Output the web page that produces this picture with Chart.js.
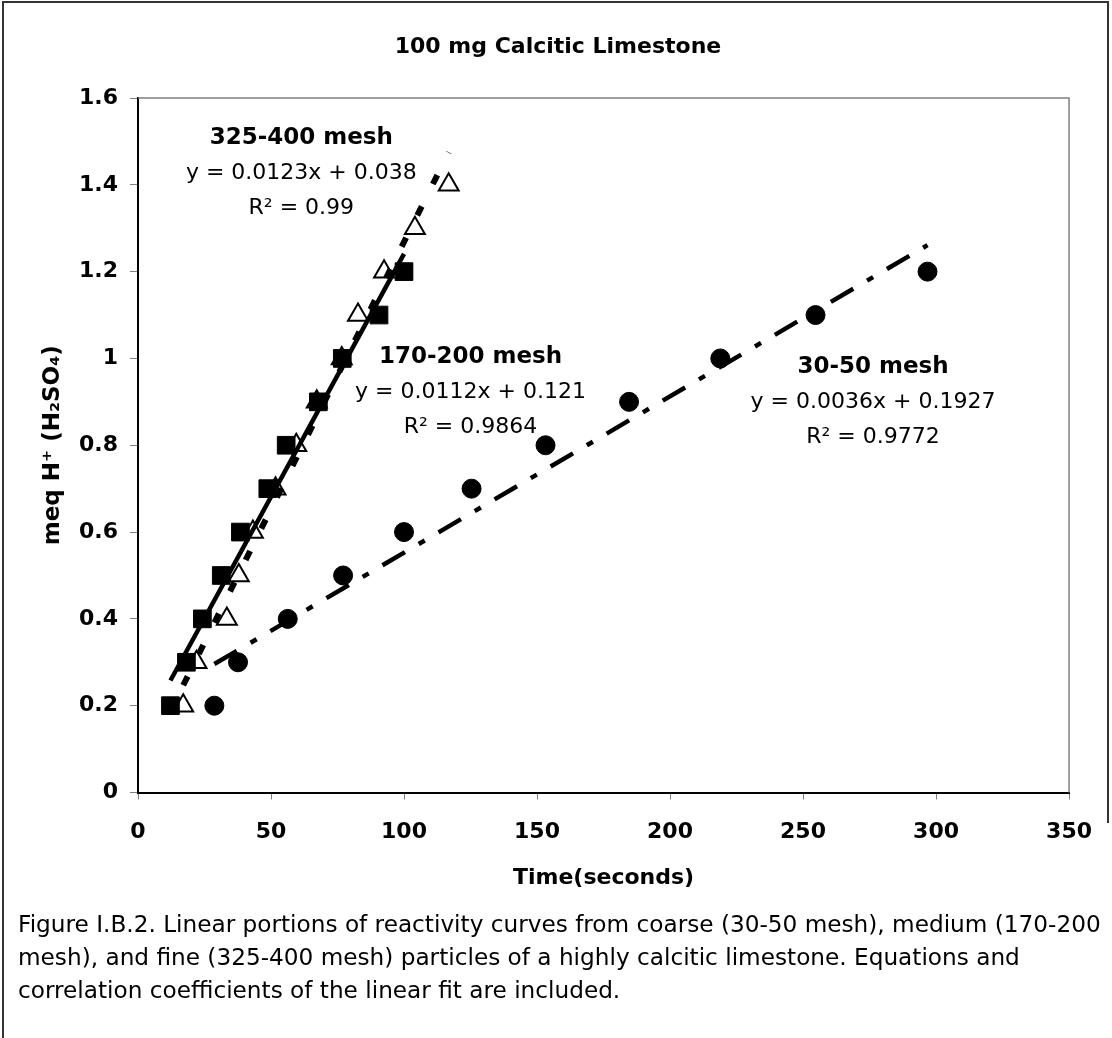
<!DOCTYPE html>
<html><head><meta charset="utf-8">
<script src="https://cdn.jsdelivr.net/npm/chart.js@4.4.1/dist/chart.umd.min.js"></script>
<style>
html,body{margin:0;padding:0;background:#fff;}
#wrap{position:relative;width:1112px;height:1038px;overflow:hidden;background:#fff;}
#c{position:absolute;left:0;top:0;}
#frame{position:absolute;left:2px;top:1px;width:1105px;height:1040px;border-left:2px solid #333;border-top:2px solid #333;}
#frameR{position:absolute;left:1107px;top:1px;width:2px;height:822px;background:#333;}
#cap{position:absolute;left:18px;top:907px;font-family:'DejaVu Sans';font-size:23.2px;line-height:33px;color:#000;white-space:nowrap;}
</style></head><body>
<div id="wrap">
<canvas id="c" width="1112" height="900"></canvas>
<div id="frame"></div><div id="frameR"></div>
<div id="cap">Figure I.B.2. Linear portions of reactivity curves from coarse (30-50 mesh), medium (170-200<br>mesh), and fine (325-400 mesh) particles of a highly calcitic limestone. Equations and<br>correlation coefficients of the linear fit are included.</div>
</div>
<script>
// ---- data ----
const chartTitle = '100 mg Calcitic Limestone';
const xTitle = 'Time(seconds)';
const yTitle = 'meq H\u207A (H\u2082SO\u2084)';
const xTickLabels = ['0','50','100','150','200','250','300','350'];
const yTickLabels = ['0','0.2','0.4','0.6','0.8','1','1.2','1.4','1.6'];

// 325-400 mesh (open triangles)
const fineX = [17.0, 22.0, 33.4, 37.9, 43.2, 51.7, 59.5, 67.2, 76.6, 82.7, 92.5, 104.1, 116.8];
const fineY = [0.2, 0.3, 0.4, 0.5, 0.6, 0.7, 0.8, 0.9, 1.0, 1.1, 1.2, 1.3, 1.4];
// 170-200 mesh (filled squares)
const medX = [12.2, 18.2, 24.2, 31.3, 38.5, 48.8, 55.7, 67.8, 76.8, 90.6, 100.0];
const medY = [0.2, 0.3, 0.4, 0.5, 0.6, 0.7, 0.8, 0.9, 1.0, 1.1, 1.2];
// 30-50 mesh (filled circles)
const coarseX = [28.7, 37.6, 56.3, 77.1, 100.0, 125.4, 153.2, 184.6, 218.9, 254.7, 296.8];
const coarseY = [0.2, 0.3, 0.4, 0.5, 0.6, 0.7, 0.8, 0.9, 1.0, 1.1, 1.2];

// trendline end points
const fineFitX = [17.0, 116.8];
const fineFitY = [0.247, 1.475];
const medFitX = [12.2, 100.0];
const medFitY = [0.258, 1.241];
const coarseFitX = [28.7, 296.8];
const coarseFitY = [0.296, 1.261];

// fit labels
const fitNames = ['325-400 mesh', '170-200 mesh', '30-50 mesh'];
const fitEqs = ['y = 0.0123x + 0.038', 'y = 0.0112x + 0.121', 'y = 0.0036x + 0.1927'];
const fitR2 = ['R\u00B2 = 0.99', 'R\u00B2 = 0.9864', 'R\u00B2 = 0.9772'];
const labelX = [61.4, 125.0, 276.3];
const labelY = [1.508, 1.003, 0.980];

const pts = (xs, ys) => xs.map((x, i) => ({x, y: ys[i]}));
const FONT = "'DejaVu Sans'";

const decorPlugin = {
  id: 'decor',
  afterDraw(chart) {
    const {ctx, chartArea: a, scales: {x, y}} = chart;
    ctx.save();
    ctx.strokeStyle = '#808080';
    ctx.lineWidth = 1.5;
    ctx.beginPath();
    ctx.moveTo(a.left, a.top);
    ctx.lineTo(a.right, a.top);
    ctx.lineTo(a.right, a.bottom);
    ctx.stroke();
    ctx.fillStyle = '#000';
    ctx.textAlign = 'center';
    ctx.textBaseline = 'middle';
    ctx.font = 'bold 22px ' + FONT;
    ctx.fillText(chartTitle, 558, 47);
    for (let i = 0; i < fitNames.length; i++) {
      const px = x.getPixelForValue(labelX[i]);
      const py = y.getPixelForValue(labelY[i]);
      ctx.font = 'bold 23px ' + FONT;
      ctx.fillText(fitNames[i], px, py);
      ctx.font = '22px ' + FONT;
      ctx.fillText(fitEqs[i], px, py + 35);
      ctx.fillText(fitR2[i], px, py + 70);
    }
    ctx.restore();
  }
};

const tickFont = {family: 'DejaVu Sans', size: 22, weight: 'bold'};
const yTitleFont = {family: 'DejaVu Sans', size: 23, weight: 'bold'};

new Chart(document.getElementById('c').getContext('2d'), {
  type: 'scatter',
  data: {
    datasets: [
      {data: pts(fineFitX, fineFitY), showLine: true, pointRadius: 0, borderColor: '#000', borderWidth: 6, borderDash: [10, 25], borderCapStyle: 'butt'},
      {data: pts(medFitX, medFitY), showLine: true, pointRadius: 0, borderColor: '#000', borderWidth: 4.5},
      {data: pts(coarseFitX, coarseFitY), showLine: true, pointRadius: 0, borderColor: '#000', borderWidth: 4.5, borderDash: [26, 16, 7, 16], borderCapStyle: 'butt'},
      {data: pts(medX, medY), pointStyle: 'rect', pointRadius: 12.5, pointHoverRadius: 12.5, backgroundColor: '#000', borderColor: '#000', borderWidth: 1},
      {data: pts(fineX, fineY), pointStyle: 'triangle', pointRadius: 11.5, pointHoverRadius: 11.5, backgroundColor: '#fff', borderColor: '#000', borderWidth: 2},
      {data: pts(coarseX, coarseY), pointStyle: 'circle', pointRadius: 9.5, pointHoverRadius: 9.5, backgroundColor: '#000', borderColor: '#000', borderWidth: 1}
    ]
  },
  options: {
    responsive: false,
    animation: false,
    events: [],
    layout: {padding: {left: 0, right: 39, top: 98, bottom: 0}},
    plugins: {legend: {display: false}, tooltip: {enabled: false}, title: {display: false}},
    scales: {
      x: {
        type: 'linear', min: 0, max: 350,
        afterFit(s) { s.height = 900 - 792.5; },
        ticks: {stepSize: 50, autoSkip: false, maxRotation: 0, color: '#000', font: tickFont, padding: 20,
          callback: v => xTickLabels[Math.round(v / 50)]},
        grid: {drawOnChartArea: false, drawTicks: true, tickLength: 7, color: '#808080'},
        border: {color: '#000', width: 2},
        title: {display: true, text: xTitle, color: '#000', font: tickFont, padding: {top: 0, bottom: 9}}
      },
      y: {
        type: 'linear', min: 0, max: 1.6,
        afterFit(s) { s.width = 138; },
        ticks: {stepSize: 0.2, autoSkip: false, color: '#000', font: tickFont, padding: 12,
          callback: v => yTickLabels[Math.round(v / 0.2)]},
        grid: {drawOnChartArea: false, drawTicks: true, tickLength: 8, color: '#808080'},
        border: {color: '#000', width: 2},
        title: {display: true, text: yTitle, color: '#000', font: yTitleFont, padding: {top: 39, bottom: 0}}
      }
    }
  },
  plugins: [decorPlugin]
});
</script>
</body></html>
